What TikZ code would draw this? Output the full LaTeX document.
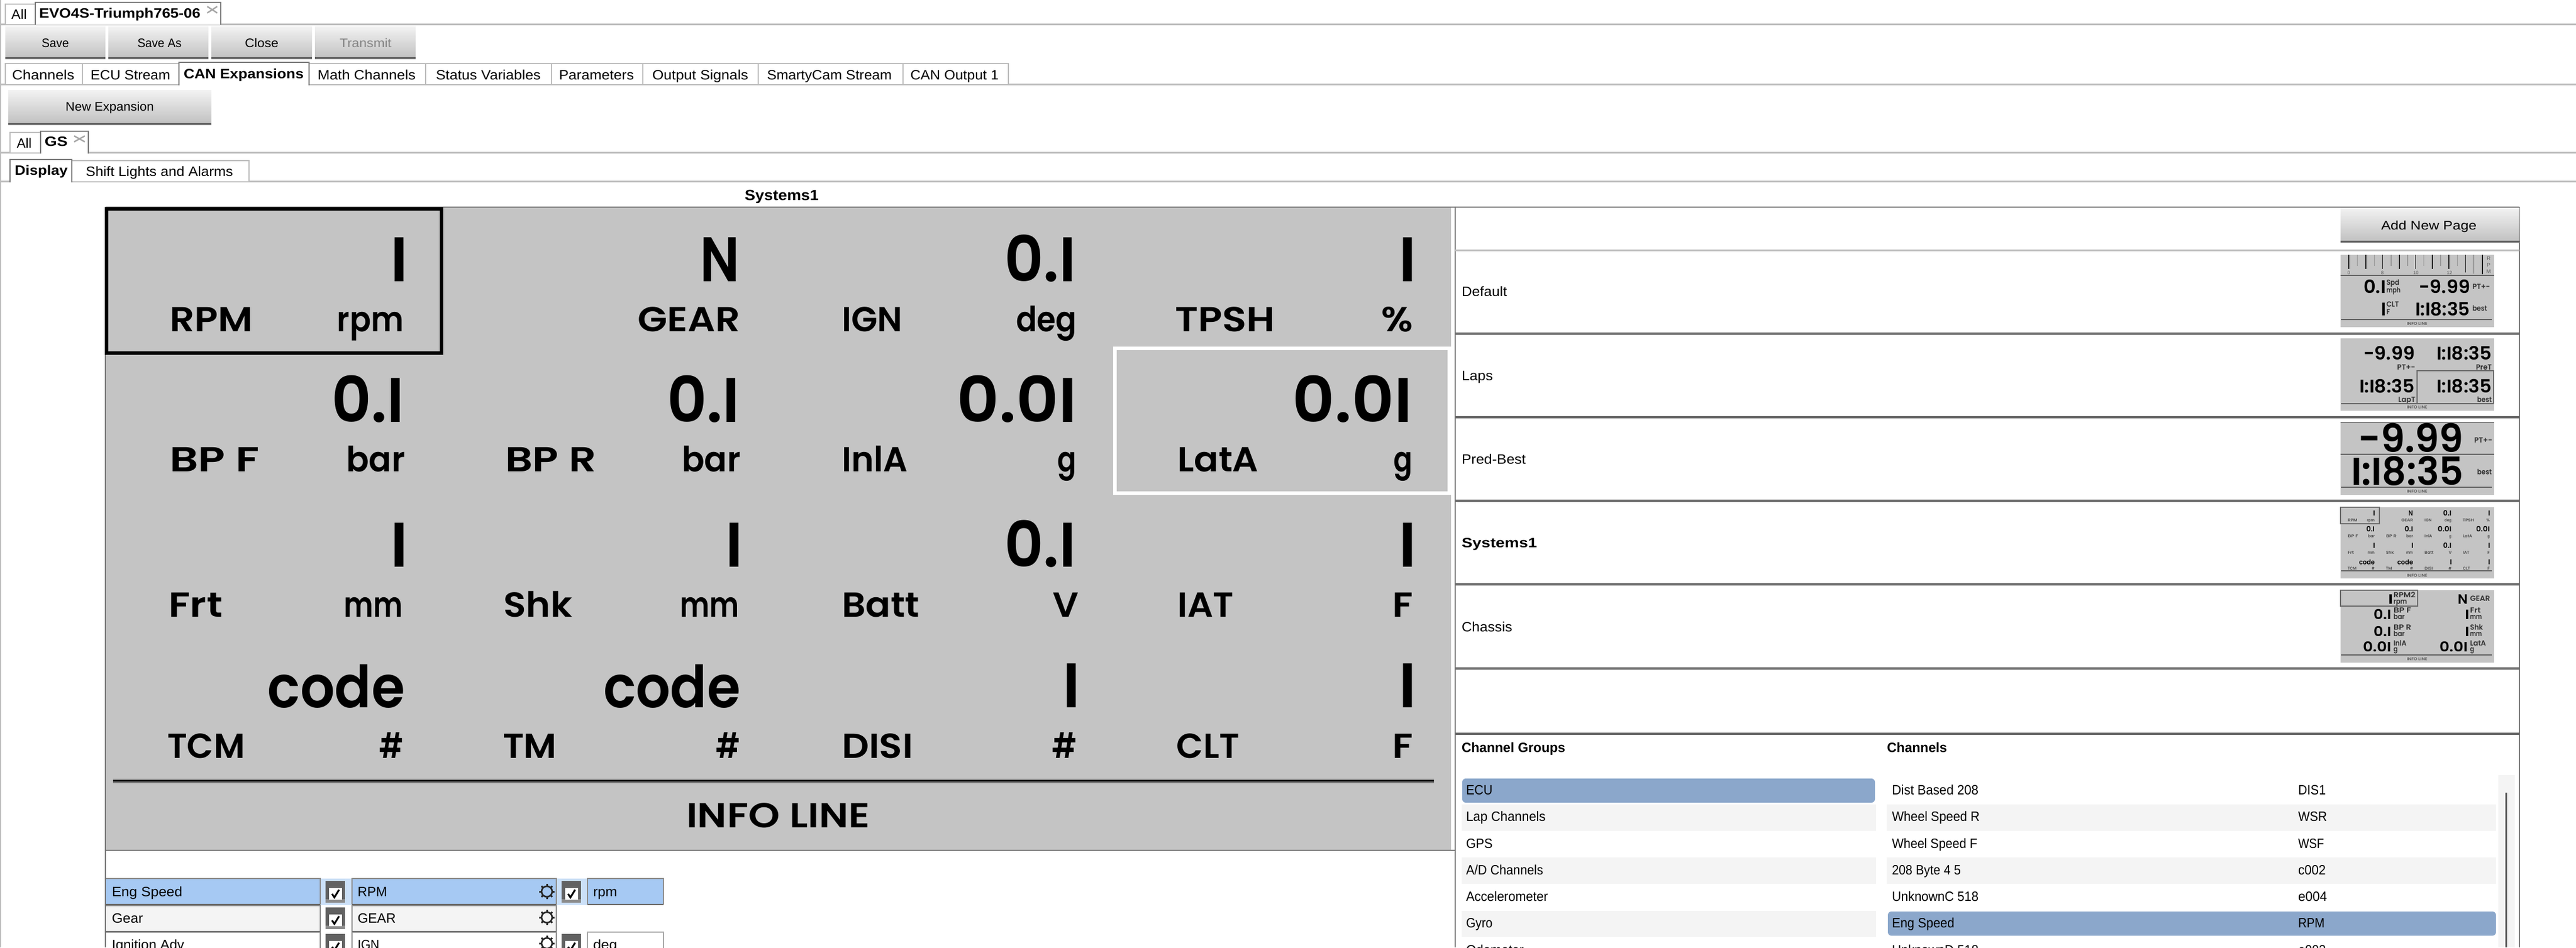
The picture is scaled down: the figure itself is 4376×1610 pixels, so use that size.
\documentclass[tikz,border=0pt]{standalone}
\usepackage{fontspec}
\usepackage{graphicx}
\usetikzlibrary{calc}
\newfontfamily\uifont{Liberation Sans}
\newfontfamily\dispbold{Poppins}[UprightFont=* SemiBold]
\newfontfamily\dispmed{Poppins}[UprightFont=* SemiBold]
\definecolor{panelgrey}{HTML}{C4C4C4}
\definecolor{rulegrey}{HTML}{7A7A7A}
\definecolor{lightrule}{HTML}{BDBDBD}
\definecolor{rowgrey}{HTML}{F4F4F4}
\definecolor{selblue}{HTML}{A6C9F3}
\definecolor{palesel}{HTML}{CBE0F8}
\definecolor{listsel}{HTML}{8BA7CB}
\tikzset{
  txt/.style={inner sep=0pt,outer sep=0pt},
  tabline/.style={draw=lightrule,line width=1.5pt},
  hardrule/.style={draw=rulegrey,line width=3.5pt},
  softrule/.style={draw=lightrule,line width=3pt},
  thinrule/.style={draw=rulegrey,line width=1.6pt},
  dval/.style={txt,text=black},
  dlab/.style={txt,text=black},
  minirule/.style={draw=black!62,line width=1.4pt},
  minibox/.style={draw=black!58,line width=1.6pt},
  infotext/.style={txt,text=black!65},
}
\newcommand\fitbox[2]{\resizebox{#1pt}{\height}{#2}}
% interface text: x, base y, width, text
\newcommand\uiL[4]{\node[txt,anchor=base west] at (#1,#2) {\fitbox{#3}{\uifont\fontsize{23}{23}\selectfont #4}};}
\newcommand\uiC[4]{\node[txt,anchor=base] at (#1,#2) {\fitbox{#3}{\uifont\fontsize{21}{21}\selectfont #4}};}
% display text at a chosen size: x, base y, width, text
\newcommand\dVal[4]{\node[dval,anchor=base east] at (#1,#2) {\fitbox{#3}{\dispbold\fontsize{107}{107}\selectfont #4}};}
\newcommand\dBar[2]{\node[dval,anchor=base east] at (#1+7,#2) {\dispbold\fontsize{107}{107}\selectfont I};}
\newcommand\dCode[3]{\node[dval,anchor=base east] at (#1,#2) {\fitbox{#3}{\dispbold\fontsize{99}{99}\selectfont code}};}
\newcommand\dName[4]{\node[dlab,anchor=base west] at (#1,#2) {\fitbox{#3}{\dispmed\fontsize{59}{59}\selectfont #4}};}
\newcommand\dUnit[4]{\node[dlab,anchor=base east] at (#1,#2) {\fitbox{#3}{\dispmed\fontsize{59}{59}\selectfont #4}};}
% thumbnail text
\newcommand\mVal[5]{\node[dval,anchor=base east] at (#1,#2) {\fitbox{#3}{\dispbold\fontsize{#4}{#4}\selectfont #5}};}
\newcommand\mLabR[4]{\node[dlab,anchor=base east,text=black!80] at (#1,#2) {\fitbox{#3}{\dispmed\fontsize{12.5}{12.5}\selectfont #4}};}
\newcommand\mLabL[4]{\node[dlab,anchor=base west,text=black!80] at (#1,#2) {\fitbox{#3}{\dispmed\fontsize{12.5}{12.5}\selectfont #4}};}
\newcommand\mInfo[1]{\node[infotext,anchor=center] at (4106,#1) {\fitbox{35}{\dispbold\fontsize{7}{7}\selectfont INFO LINE}};}
% the page of sixteen cells, used full size and as its thumbnail
\newcommand\sysCells{%
  \dBar{686}{478.5}\dVal{1256}{478.5}{67}{N}\dVal{1828}{478.5}{122}{0.I}\dBar{2399}{478.5}
  \dName{288}{563.6}{141.5}{RPM}\dUnit{685.6}{563.6}{113}{rpm}
  \dUnit{1257}{563.6}{174}{GEAR}
  \dName{1430}{563.6}{103}{IGN}\dUnit{1829}{563.6}{103}{deg}
  \dName{1996}{563.6}{170}{TPSH}\dUnit{2400}{563.6}{54}{\%}
  \dVal{687}{717}{124}{0.I}\dVal{1257}{717}{124}{0.I}\dVal{1829}{717}{204}{0.0I}\dVal{2399}{717}{204}{0.0I}
  \dName{288}{801}{153}{BP F}\dUnit{688}{801}{100}{bar}
  \dName{858}{801}{155}{BP R}\dUnit{1258}{801}{100}{bar}
  \dName{1430}{801}{112}{InlA}\dUnit{1828}{801}{32}{g}
  \dName{2000}{801}{138}{LatA}\dUnit{2399}{801}{32}{g}
  \dBar{686}{963}\dBar{1255.6}{963}\dVal{1828}{963}{122}{0.I}\dBar{2399}{963}
  \dName{286}{1048}{92}{Frt}\dUnit{684}{1048}{99.5}{mm}
  \dName{855}{1048}{117}{Shk}\dUnit{1255}{1048}{100}{mm}
  \dName{1430}{1048}{132}{Batt}\dUnit{1832}{1048}{44}{V}
  \dName{2000}{1048}{96}{IAT}\dUnit{2400}{1048}{35}{F}
  \dCode{688}{1202.5}{233}\dCode{1258}{1202.5}{233}\dBar{1828}{1202.5}\dBar{2399}{1202.5}
  \dName{284}{1288}{132}{TCM}\dUnit{685.6}{1288}{41}{\#}
  \dName{854}{1288}{92}{TM}\dUnit{1257}{1288}{41}{\#}
  \dName{1430}{1288}{121}{DISI}\dUnit{1829}{1288}{42}{\#}
  \dName{1998.5}{1288}{107}{CLT}\dUnit{2400}{1288}{35}{F}
}
% gear icon
\newcommand\cog[2]{%
  \draw[black!85,line width=2.6pt] (#1,#2) circle[radius=9];
  \foreach \a in {0,45,...,315}{\draw[black!85,line width=3pt] ($(#1,#2)+(\a:8.5)$) -- ($(#1,#2)+(\a:13)$);}
}
% checkbox: left, top
\newcommand\chk[2]{%
  \fill[black!62] (#1,#2) rectangle ++(33,37);
  \fill[black!45] (#1,#2+31) rectangle ++(33,6);
  \fill[white] (#1+6,#2+12) rectangle ++(22,20);
  \draw[black,line width=3pt] (#1+11,#2+22) -- (#1+15,#2+28) -- (#1+23,#2+15);
}
% close mark of a tab
\newcommand\tabX[4]{\draw[black!35,line width=2.4pt] (#1,#2) -- (#3,#4) (#1,#4) -- (#3,#2);}
% grey button with dark lower edge
\newcommand\btnbox[4]{%
  \shade[top color=black!5,bottom color=black!25] (#1,#2) rectangle (#3,#4);
  \fill[black!62] (#1,#4-3) rectangle (#3,#4);
}
\begin{document}
\begin{tikzpicture}[x=1pt,y=-1pt]
\useasboundingbox (0,0) rectangle (4376,1610);
\fill[white] (0,0) rectangle (4376,1610);
\clip (0,0) rectangle (4376,1610);
\draw[lightrule,line width=1.5pt] (1,0) -- (1,1610);

% ---- top tabs
\draw[softrule] (0,41) -- (4376,41);
\draw[tabline,fill=white] (9,41) -- (9,7) -- (60,7) -- (60,41);
\draw[draw=rulegrey,line width=1.5pt,fill=white] (60,41.5) -- (60,4) -- (375,4) -- (375,41.5);
\uiL{19.5}{32}{26}{All}
\uiL{66.6}{30}{274}{\bfseries EVO4S-Triumph765-06}
\tabX{352}{11}{369}{22}

% ---- file buttons
\btnbox{9}{45}{179}{100}
\btnbox{184}{45}{354}{100}
\btnbox{359}{45}{530}{100}
\btnbox{535}{45}{706}{100}
\uiC{94}{80}{46}{Save}
\uiC{271}{80}{75}{Save As}
\uiC{444.6}{80}{57}{Close}
\node[txt,anchor=base,text=black!48] at (621,80) {\fitbox{88}{\uifont\fontsize{21}{21}\selectfont Transmit}};

% ---- section tabs
\draw[softrule] (0,143) -- (4376,143);
\foreach \l/\r in {9/140,140/304,525/723,723/937,937/1092,1092/1288,1288/1534,1534/1713}
  \draw[tabline,fill=white] (\l,143) -- (\l,108) -- (\r,108) -- (\r,143);
\draw[draw=rulegrey,line width=1.5pt,fill=white] (304,144.5) -- (304,106) -- (525,106) -- (525,144.5);
\uiL{20.7}{135}{105.6}{Channels}
\uiL{153.8}{135}{135.5}{ECU Stream}
\uiL{312}{133}{204}{\bfseries CAN Expansions}
\uiL{539.6}{135}{166.5}{Math Channels}
\uiL{740.5}{135}{178}{Status Variables}
\uiL{949.5}{135}{127.4}{Parameters}
\uiL{1108}{135}{163}{Output Signals}
\uiL{1303}{135}{212}{SmartyCam Stream}
\uiL{1546.5}{135}{150}{CAN Output 1}

% ---- expansion
\btnbox{14}{153}{359}{212}
\uiC{186.5}{188}{150}{New Expansion}
\draw[softrule] (0,259) -- (4376,259);
\draw[tabline,fill=white] (17,259) -- (17,225) -- (69,225) -- (69,259);
\draw[draw=rulegrey,line width=1.5pt,fill=white] (69,260.5) -- (69,223) -- (150,223) -- (150,260.5);
\uiL{28.7}{251}{25}{All}
\uiL{75.8}{248}{39}{\bfseries GS}
\tabX{126}{231}{144}{241}
\draw[softrule] (0,308) -- (4376,308);
\draw[tabline,fill=white] (122,308) -- (122,273) -- (423,273) -- (423,308);
\draw[draw=rulegrey,line width=1.5pt,fill=white] (17,309.5) -- (17,271) -- (122,271) -- (122,309.5);
\uiL{25}{297}{90}{\bfseries Display}
\uiL{145.8}{299}{250}{Shift Lights and Alarms}
\node[txt,anchor=base] at (1328,340) {\fitbox{126}{\uifont\fontsize{25}{25}\selectfont\bfseries Systems1}};

% ---- main display
\draw[thinrule] (179,352) -- (4280,352);
\draw[thinrule] (179,352) -- (179,1610);
\draw[thinrule] (2472,352) -- (2472,1610);
\draw[thinrule] (4280,352) -- (4280,1610);
\fill[panelgrey] (180,353) rectangle (2465,1445);
\draw[thinrule] (179,1445) -- (2472,1445);
\sysCells
\draw[black!55,line width=4pt] (192,1328.5) -- (2436,1328.5);
\draw[black,line width=3pt] (192,1326.5) -- (2436,1326.5);
\node[dlab,anchor=base] at (1322,1406) {\fitbox{312}{\dispmed\fontsize{59}{59}\selectfont INFO LINE}};
\draw[black,line width=6pt] (181,355) rectangle (750,600);
\draw[white,line width=6pt] (1894,592) rectangle (2462,838);

% ---- field table
\fill[selblue] (180,1493) rectangle (544,1537);
\fill[palesel] (544,1493) rectangle (598,1538);
\fill[selblue] (598,1493) rectangle (945,1537);
\fill[palesel] (945,1493) rectangle (998,1538);
\fill[selblue] (998,1493) rectangle (1127,1537);
\fill[rowgrey] (180,1539) rectangle (544,1583);
\fill[rowgrey] (598,1539) rectangle (945,1583);
\foreach \t/\b in {1493/1537,1539/1583,1584/1628}{
  \draw[draw=black!45,line width=1.2pt] (180,\t) -- (544,\t) -- (544,\b);
  \draw[draw=black!45,line width=1.2pt] (598,\b) -- (598,\t) -- (945,\t) -- (945,\b);
  \draw[draw=black!60,line width=2.4pt] (180,\b) -- (544,\b) (598,\b) -- (945,\b);
}
\draw[draw=black!45,line width=1.2pt] (1127,1537) -- (1127,1493) -- (998,1493) -- (998,1537);
\draw[draw=black!60,line width=2.4pt] (998,1537) -- (1127,1537);
\draw[draw=black!35,line width=1.2pt] (998,1628) -- (998,1584) -- (1127,1584) -- (1127,1628);
\chk{553}{1497}\chk{553}{1542}\chk{553}{1587}
\chk{954}{1497}\chk{954}{1587}
\cog{929}{1515}\cog{929}{1559}\cog{929}{1603}
\uiL{190}{1523}{120}{Eng Speed}
\uiL{607.5}{1523}{50}{RPM}
\uiL{1007.5}{1523}{41}{rpm}
\uiL{190}{1568}{53}{Gear}
\uiL{607.5}{1568}{65}{GEAR}
\uiL{190}{1613}{123}{Ignition Adv}
\uiL{607.5}{1613}{37}{IGN}
\uiL{1007.5}{1613}{41}{deg}

% ---- pages list
\shade[top color=black!5,bottom color=black!25] (3976,353) rectangle (4280,412);
\fill[black!62] (3976,409) rectangle (4280,412);
\uiC{4126}{390}{162}{Add New Page}
\draw[softrule] (2472,425) -- (4280,425);
\foreach \y in {567,709,851,993,1136,1247}\draw[draw=black!58,line width=3.5pt] (2472,\y) -- (4280,\y);
\uiL{2483}{503}{77}{Default}
\uiL{2483}{646}{53}{Laps}
\uiL{2483}{788}{109}{Pred-Best}
\uiL{2483}{930}{128}{\bfseries Systems1}
\uiL{2483}{1073}{86}{Chassis}

% thumbnail: Default
\fill[panelgrey] (3976,433) rectangle (4237,556);
\foreach \x/\b/\c in {3990/457/85,4004.3/452/40,4019/457/85,4033.3/452/40,4047.3/457/85,4061.7/452/40,4075.7/457/85,4090/452/40,4103.3/457/85,4117.3/452/40,4131.7/457/85,4146/452/40,4160/457/85,4174.3/452/40}
  \draw[black!\c,line width=1.6pt] (\x,433) -- (\x,\b);
\draw[black!85,line width=1.6pt] (4188.3,433) -- (4188.3,463);
\draw[black!60,line width=1.4pt] (4202.7,433) -- (4202.7,465);
\draw[black!90,line width=1.6pt] (4216.7,433) -- (4216.7,466);
\draw[black!62,line width=2pt] (3976,468) -- (4237,468);
\foreach \x/\s in {3990/0,4047/8,4104/10,4161/12}\node[infotext,anchor=base] at (\x,466) {\uifont\fontsize{8}{8}\selectfont \s};
\foreach \s/\y in {R/442,P/453,M/464}\node[infotext,anchor=base] at (4227.5,\y) {\uifont\fontsize{9}{9}\selectfont \s};
\mVal{4053}{498}{38}{31}{0.I}
\mLabL{4054}{484}{22}{Spd}
\mLabL{4054}{497}{24}{mph}
\mVal{4196}{498}{87}{31}{-9.99}
\mLabL{4200}{491}{30}{PT+-}
\mVal{4053}{536}{8}{31}{I}
\mLabL{4054}{521}{21}{CLT}
\mLabL{4054}{534}{6}{F}
\mVal{4196}{536}{93}{31}{I:I8:35}
\mLabL{4200}{528}{25}{best}
\draw[minirule] (3977,543) -- (4233,543);
\mInfo{550}

% thumbnail: Laps
\fill[panelgrey] (3976,575) rectangle (4237,698);
\mVal{4102}{611}{87}{31}{-9.99}
\mVal{4233}{611}{94}{31}{I:I8:35}
\mLabR{4103}{628}{31}{PT+-}
\mLabR{4233}{628}{27}{PreT}
\mVal{4102}{667}{94}{31}{I:I8:35}
\mVal{4233}{667}{94}{31}{I:I8:35}
\mLabR{4103}{683}{29}{LapT}
\mLabR{4233}{683}{25}{best}
\draw[minirule] (3977,686) -- (4236,686);
\draw[minibox] (4106,686) -- (4106,630) -- (4236,630) -- (4236,686);
\mInfo{692}

% thumbnail: Pred-Best
\fill[panelgrey] (3976,718) rectangle (4237,841);
\draw[black!50,line width=1.4pt] (3976,718) -- (4237,718);
\mVal{4185}{768}{179}{66}{-9.99}
\mLabL{4203}{752}{31}{PT+-}
\draw[minirule] (3976,772) -- (4237,772);
\mVal{4185}{824}{191}{66}{I:I8:35}
\mLabL{4208}{806}{25}{best}
\draw[minirule] (3977,828) -- (4233,828);
\mInfo{835}

% thumbnail: Systems1
\fill[panelgrey] (3976,862) rectangle (4237,983);
\begin{scope}[shift={(3976,862)},scale=0.1142,transform shape,shift={(-179,-352)},dlab/.append style={text=black!70}]
  \sysCells
\end{scope}
\draw[minibox] (3976,862) rectangle (4041.7,890);
\draw[minirule] (3977,970) -- (4233,970);
\mInfo{978}

% thumbnail: Chassis
\fill[panelgrey] (3976,1003) rectangle (4237,1126);
\draw[minibox] (3976,1003) rectangle (4107,1030);
\mVal{4065}{1026}{8}{23}{I}
\mVal{4192}{1026}{17}{23}{N}
\mLabL{4066}{1015}{37}{RPM2}
\mLabL{4066}{1026}{23}{rpm}
\mLabL{4196}{1021}{34}{GEAR}
\mVal{4062}{1052}{30}{23}{0.I}
\mVal{4195}{1052}{8}{23}{I}
\mLabL{4066}{1041}{30}{BP F}
\mLabL{4066}{1052}{19}{bar}
\mLabL{4196}{1041}{18}{Frt}
\mLabL{4196}{1052}{20}{mm}
\mVal{4062}{1081}{30}{23}{0.I}
\mVal{4195}{1081}{8}{23}{I}
\mLabL{4066}{1070}{30}{BP R}
\mLabL{4066}{1081}{19}{bar}
\mLabL{4196}{1070}{22}{Shk}
\mLabL{4196}{1081}{20}{mm}
\mVal{4062}{1107}{48}{23}{0.0I}
\mVal{4192}{1107}{48}{23}{0.0I}
\mLabL{4066}{1097}{22}{InlA}
\mLabL{4066}{1107}{7}{g}
\mLabL{4196}{1097}{27}{LatA}
\mLabL{4196}{1107}{7}{g}
\draw[minirule] (3977,1113) -- (4233,1113);
\mInfo{1120}

% ---- channel lists
\uiL{2483}{1278}{176}{\bfseries Channel Groups}
\uiL{3205.5}{1278}{102}{\bfseries Channels}
\fill[rowgrey] (2483,1367) rectangle (3187,1412);
\fill[rowgrey] (2483,1457) rectangle (3187,1502);
\fill[rowgrey] (2483,1548) rectangle (3187,1592);
\fill[rowgrey] (3205,1367) rectangle (4240,1412);
\fill[rowgrey] (3205,1457) rectangle (4240,1502);
\fill[listsel,rounded corners=6pt] (2484,1323) rectangle (3185,1364);
\fill[listsel,rounded corners=6pt] (3207,1549) rectangle (4240,1590);
\fill[rowgrey] (4244,1317) rectangle (4272,1610);
\draw[black!65,line width=3pt] (4257,1347) -- (4257,1610);
\uiL{2490.5}{1350}{45}{ECU}
\uiL{2490.5}{1395}{135}{Lap Channels}
\uiL{2490.5}{1441}{45}{GPS}
\uiL{2490.5}{1486}{131}{A/D Channels}
\uiL{2490.5}{1531}{139}{Accelerometer}
\uiL{2490.5}{1576}{45}{Gyro}
\uiL{2490.5}{1622}{98}{Odometer}
\uiL{3214}{1350}{147}{Dist Based 208}
\uiL{3214}{1395}{149}{Wheel Speed R}
\uiL{3214}{1441}{145}{Wheel Speed F}
\uiL{3214}{1486}{117}{208 Byte 4 5}
\uiL{3214}{1531}{147}{UnknownC 518}
\uiL{3214}{1576}{106}{Eng Speed}
\uiL{3214}{1622}{147}{UnknownD 518}
\uiL{3904}{1350}{47}{DIS1}
\uiL{3904}{1395}{49}{WSR}
\uiL{3904}{1441}{44}{WSF}
\uiL{3904}{1486}{47}{c002}
\uiL{3904}{1531}{49}{e004}
\uiL{3904}{1576}{45}{RPM}
\uiL{3904}{1622}{47}{e003}
\end{tikzpicture}
\end{document}
